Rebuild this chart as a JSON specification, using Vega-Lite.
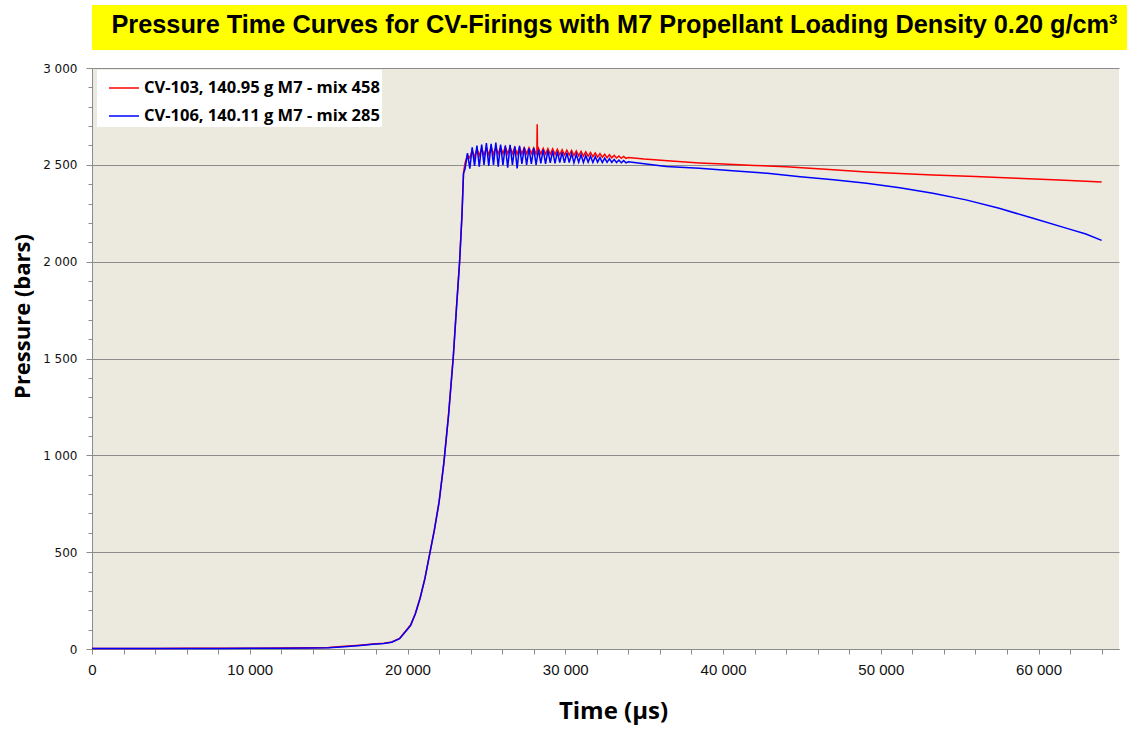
{
  "$schema": "https://vega.github.io/schema/vega-lite/v6.json",
  "autosize": {"type": "pad"},
  "padding": {"left": 11, "top": 5, "right": 1, "bottom": 8},
  "background": "white",
  "spacing": 12,
  "resolve": {"legend": {"color": "independent"}, "scale": {"color": "independent"}},
  "datasets": {
    "header": [{"label": "Pressure Time Curves for CV-Firings with M7 Propellant Loading Density 0.20 g/cm³"}],
    "cv103": [
      {"t":0,"p":3},{"t":2000,"p":3},{"t":4000,"p":3},{"t":6000,"p":4},{"t":8000,"p":4},{"t":10000,"p":4},{"t":12000,"p":5},{"t":14000,"p":6},{"t":15000,"p":8},{"t":16000,"p":14},{"t":17000,"p":20},{"t":17800,"p":26},{"t":18500,"p":30},{"t":19000,"p":36},{"t":19500,"p":55},{"t":20000,"p":105},{"t":20200,"p":125},{"t":20500,"p":185},{"t":20800,"p":265},{"t":21100,"p":365},{"t":21400,"p":490},{"t":21700,"p":615},{"t":22000,"p":760},{"t":22300,"p":960},{"t":22600,"p":1210},{"t":22900,"p":1510},{"t":23100,"p":1760},{"t":23300,"p":2000},{"t":23450,"p":2240},{"t":23550,"p":2460},{"t":23650,"p":2510},
      {"t":23800,"p":2550},{"t":23950,"p":2535},{"t":24100,"p":2575},{"t":24250,"p":2540},{"t":24400,"p":2582},{"t":24550,"p":2548},{"t":24700,"p":2586},{"t":24850,"p":2550},{"t":25000,"p":2590},{"t":25150,"p":2552},{"t":25300,"p":2592},{"t":25450,"p":2555},{"t":25600,"p":2593},{"t":25750,"p":2556},{"t":25900,"p":2592},{"t":26050,"p":2558},{"t":26200,"p":2593},{"t":26350,"p":2557},{"t":26500,"p":2591},{"t":26650,"p":2558},{"t":26800,"p":2590},{"t":26950,"p":2556},{"t":27100,"p":2590},{"t":27250,"p":2558},{"t":27400,"p":2588},{"t":27550,"p":2557},{"t":27700,"p":2588},{"t":27850,"p":2558},{"t":28000,"p":2587},{"t":28150,"p":2556},{"t":28200,"p":2570},{"t":28220,"p":2710},{"t":28240,"p":2575},{"t":28300,"p":2586},{"t":28450,"p":2557},{"t":28600,"p":2585},{"t":28750,"p":2556},{"t":28900,"p":2584},{"t":29050,"p":2555},{"t":29200,"p":2582},{"t":29350,"p":2554},{"t":29500,"p":2580},{"t":29650,"p":2552},{"t":29800,"p":2578},{"t":29950,"p":2551},{"t":30100,"p":2576},{"t":30250,"p":2550},{"t":30400,"p":2574},{"t":30550,"p":2548},{"t":30700,"p":2572},{"t":30850,"p":2547},{"t":31000,"p":2570},{"t":31150,"p":2545},{"t":31300,"p":2567},{"t":31450,"p":2544},{"t":31600,"p":2564},{"t":31750,"p":2542},{"t":31900,"p":2561},{"t":32050,"p":2540},{"t":32200,"p":2558},{"t":32350,"p":2539},{"t":32500,"p":2555},{"t":32650,"p":2537},{"t":32800,"p":2552},{"t":32950,"p":2536},{"t":33100,"p":2549},{"t":33250,"p":2535},{"t":33400,"p":2546},{"t":33550,"p":2534},{"t":33700,"p":2543},{"t":33850,"p":2533},{"t":34000,"p":2538},
      {"t":35000,"p":2530},{"t":36500,"p":2521},{"t":38500,"p":2510},{"t":40000,"p":2504},{"t":42000,"p":2497},{"t":44000,"p":2490},{"t":46500,"p":2477},{"t":49100,"p":2463},{"t":51200,"p":2455},{"t":53300,"p":2448},{"t":56000,"p":2440},{"t":58600,"p":2431},{"t":61300,"p":2422},{"t":64000,"p":2412}
    ],
    "cv106": [
      {"t":0,"p":2},{"t":2000,"p":2},{"t":4000,"p":3},{"t":6000,"p":3},{"t":8000,"p":3},{"t":10000,"p":4},{"t":12000,"p":4},{"t":14000,"p":5},{"t":15000,"p":7},{"t":16000,"p":12},{"t":17000,"p":18},{"t":17800,"p":24},{"t":18500,"p":29},{"t":19000,"p":35},{"t":19500,"p":53},{"t":20000,"p":102},{"t":20200,"p":122},{"t":20500,"p":182},{"t":20800,"p":262},{"t":21100,"p":362},{"t":21400,"p":487},{"t":21700,"p":612},{"t":22000,"p":757},{"t":22300,"p":957},{"t":22600,"p":1205},{"t":22900,"p":1505},{"t":23100,"p":1755},{"t":23300,"p":1995},{"t":23450,"p":2235},{"t":23550,"p":2455},{"t":23650,"p":2480},
      {"t":23800,"p":2560},{"t":23950,"p":2480},{"t":24100,"p":2590},{"t":24250,"p":2495},{"t":24400,"p":2600},{"t":24550,"p":2490},{"t":24700,"p":2605},{"t":24850,"p":2500},{"t":25000,"p":2612},{"t":25150,"p":2495},{"t":25300,"p":2608},{"t":25450,"p":2500},{"t":25600,"p":2615},{"t":25750,"p":2490},{"t":25900,"p":2605},{"t":26050,"p":2498},{"t":26200,"p":2600},{"t":26350,"p":2485},{"t":26500,"p":2603},{"t":26650,"p":2500},{"t":26800,"p":2595},{"t":26950,"p":2482},{"t":27100,"p":2598},{"t":27250,"p":2505},{"t":27400,"p":2590},{"t":27550,"p":2500},{"t":27700,"p":2585},{"t":27850,"p":2505},{"t":28000,"p":2588},{"t":28150,"p":2500},{"t":28300,"p":2580},{"t":28450,"p":2508},{"t":28600,"p":2578},{"t":28750,"p":2505},{"t":28900,"p":2575},{"t":29050,"p":2510},{"t":29200,"p":2572},{"t":29350,"p":2508},{"t":29500,"p":2568},{"t":29650,"p":2512},{"t":29800,"p":2565},{"t":29950,"p":2510},{"t":30100,"p":2562},{"t":30250,"p":2512},{"t":30400,"p":2558},{"t":30550,"p":2510},{"t":30700,"p":2555},{"t":30850,"p":2514},{"t":31000,"p":2552},{"t":31150,"p":2512},{"t":31300,"p":2548},{"t":31450,"p":2514},{"t":31600,"p":2545},{"t":31750,"p":2512},{"t":31900,"p":2542},{"t":32050,"p":2514},{"t":32200,"p":2538},{"t":32350,"p":2512},{"t":32500,"p":2535},{"t":32650,"p":2513},{"t":32800,"p":2532},{"t":32950,"p":2512},{"t":33100,"p":2528},{"t":33250,"p":2512},{"t":33400,"p":2525},{"t":33550,"p":2511},{"t":33700,"p":2522},{"t":33850,"p":2510},{"t":34000,"p":2516},
      {"t":35000,"p":2505},{"t":36400,"p":2492},{"t":38500,"p":2482},{"t":40600,"p":2470},{"t":42800,"p":2456},{"t":44900,"p":2439},{"t":47000,"p":2423},{"t":49100,"p":2405},{"t":51200,"p":2382},{"t":53300,"p":2353},{"t":55400,"p":2319},{"t":57500,"p":2276},{"t":59600,"p":2225},{"t":61800,"p":2172},{"t":63000,"p":2143},{"t":64000,"p":2110}
    ]
  },
  "vconcat": [
    {
      "width": 1035,
      "height": 45,
      "view": {"fill": "#FFFF00", "stroke": null},
      "data": {"name": "header"},
      "mark": {"type": "text", "font": "Liberation Sans", "fontSize": 25.3, "fontWeight": "bold", "color": "black", "align": "center", "baseline": "middle", "dx": 5, "dy": -3},
      "encoding": {"text": {"field": "label"}}
    },
    {
      "width": 1027,
      "height": 581,
      "view": {"fill": "#ECE9DF", "stroke": null},
      "encoding": {
        "x": {
          "field": "t",
          "type": "quantitative",
          "scale": {"domain": [0, 65100], "nice": false, "zero": false},
          "axis": {
            "title": "Time (µs)",
            "values": [0,2000,4000,6000,8000,10000,12000,14000,16000,18000,20000,22000,24000,26000,28000,30000,32000,34000,36000,38000,40000,42000,44000,46000,48000,50000,52000,54000,56000,58000,60000,62000,64000],
            "labelExpr": "datum.value % 10000 === 0 ? replace(format(datum.value, ','), ',', ' ') : ''",
            "labelOverlap": false,
            "labelFont": "Liberation Sans",
            "labelFontSize": 15,
            "labelColor": "#111111",
            "labelPadding": 8,
            "labelFlush": false,
            "grid": false,
            "domainColor": "#8C8C8C",
            "tickColor": "#8C8C8C",
            "tickSize": 5,
            "titleFont": "Open Sans",
            "titleFontSize": 24,
            "titleFontWeight": "bold",
            "titleColor": "black",
            "titleX": 521,
            "titleY": 62,
            "titleAlign": "center",
            "titleBaseline": "middle"
          }
        },
        "y": {
          "field": "p",
          "type": "quantitative",
          "scale": {"domain": [0, 3000], "nice": false},
          "axis": {
            "title": "Pressure (bars)",
            "values": [0,100,200,300,400,500,600,700,800,900,1000,1100,1200,1300,1400,1500,1600,1700,1800,1900,2000,2100,2200,2300,2400,2500,2600,2700,2800,2900,3000],
            "labelExpr": "datum.value % 500 === 0 ? replace(format(datum.value, ','), ',', ' ') : ''",
            "labelOverlap": false,
            "labelFont": "DejaVu Sans",
            "labelFontSize": 12,
            "labelColor": "#111111",
            "labelPadding": 9,
            "labelFlush": false,
            "grid": true,
            "gridColor": "#8C8C8C",
            "gridWidth": 1,
            "gridOpacity": {"condition": {"test": "datum.value % 500 === 0", "value": 1}, "value": 0},
            "tickSize": {"condition": {"test": "datum.value % 500 === 0", "value": 6}, "value": 4},
            "domainColor": "#8C8C8C",
            "tickColor": "#8C8C8C",
            "titleFont": "Open Sans",
            "titleFontSize": 22,
            "titleFontWeight": "bold",
            "titleColor": "black",
            "titleX": -70,
            "titleY": 248,
            "titleAlign": "center",
            "titleBaseline": "middle"
          }
        }
      },
      "layer": [
        {
          "data": {"name": "cv103"},
          "mark": {"type": "line", "strokeWidth": 1.5, "interpolate": "linear"},
          "encoding": {
            "color": {
              "datum": "CV-103, 140.95 g M7 - mix 458",
              "type": "nominal",
              "scale": {
                "domain": ["CV-103, 140.95 g M7 - mix 458", "CV-106, 140.11 g M7 - mix 285"],
                "range": ["#FF0000", "#0000FF"]
              },
              "legend": {
                "title": null,
                "orient": "none",
                "legendX": 5,
                "legendY": 2,
                "fillColor": "white",
                "padding": 2,
                "symbolType": "stroke",
                "symbolSize": 900,
                "symbolStrokeWidth": 1.5,
                "symbolOffset": 9,
                "labelFont": "Open Sans",
                "labelFontSize": 16.5,
                "labelFontWeight": "bold",
                "labelColor": "black",
                "labelLimit": 0,
                "labelOffset": 4,
                "rowPadding": 3
              }
            }
          }
        },
        {
          "data": {"name": "cv106"},
          "mark": {"type": "line", "strokeWidth": 1.5, "interpolate": "linear"},
          "encoding": {
            "color": {"datum": "CV-106, 140.11 g M7 - mix 285", "type": "nominal"}
          }
        }
      ]
    }
  ]
}
